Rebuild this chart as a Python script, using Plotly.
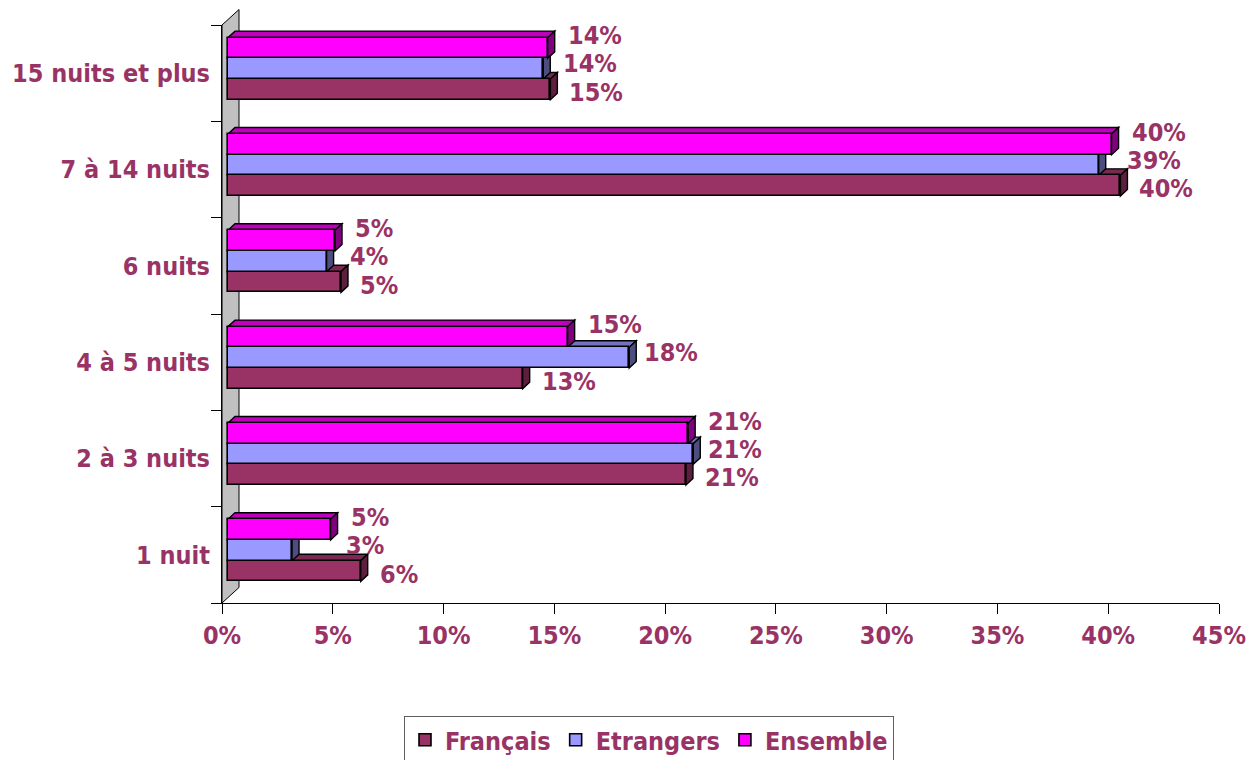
import plotly.graph_objects as go

# Nombre de nuits passées, répartition par clientèle (%)
categories = ["1 nuit", "2 à 3 nuits", "4 à 5 nuits", "6 nuits", "7 à 14 nuits", "15 nuits et plus"]
francais = [5.99, 20.67, 13.30, 5.10, 40.28, 14.55]
etrangers = [2.89, 21.00, 18.11, 4.45, 39.30, 14.23]
ensemble = [4.63, 20.77, 15.33, 4.83, 39.88, 14.43]
x_ticks = [0, 5, 10, 15, 20, 25, 30, 35, 40, 45]
x_tick_labels = [f"{t}%" for t in x_ticks]

TEXT = "#993366"
FONT = "DejaVu Sans Condensed, DejaVu Sans, sans-serif"
FS = 25

# plot geometry (pixels)
ML, MR, MT, MB = 222, 40, 25, 157
W, H = 1259, 760
PW, PH = W - ML - MR, H - MT - MB
XMAX = 45
PX_PER_X = PW / XMAX
PX_PER_CAT = PH / len(categories)

# pseudo-3D depth of the bars and of the wall
BAR_INSET = 6 / PX_PER_X          # bars sit slightly behind the front plane
DX, DY = 7 / PX_PER_X, 6.5 / PX_PER_CAT
BAR_W = 20.7 / PX_PER_CAT
GROUP_SHIFT = 4.5 / PX_PER_CAT

series = [
    ("Français", francais, "#993366", "#5C1F3D", "#7A2952", 17, -3),
    ("Etrangers", etrangers, "#9999FF", "#4D4D80", "#7373BF", 13, 5),
    ("Ensemble", ensemble, "#FF00FF", "#800080", "#BF00BF", 18, 12),
]

fig = go.Figure()
shapes = []

# invisible trace so the visible percentage axis gets drawn
fig.add_trace(go.Scatter(x=[0], y=[categories[0]], xaxis="x", yaxis="y",
                         mode="markers", marker=dict(opacity=0),
                         showlegend=False, hoverinfo="skip"))

# grey back wall behind the bars
wx, wy_top, wy_bot = 17 / PW, 1 + 15.5 / PH, 15.5 / PH
shapes.append(dict(type="path", xref="paper", yref="paper", layer="below",
                   path=f"M 0,0 L 0,1 L {wx},{wy_top} L {wx},{wy_bot} Z",
                   fillcolor="#C0C0C0", line=dict(color="#000000", width=1)))

annotations = []
for k, (name, vals, col, side_col, top_col, xs, ys) in enumerate(series):
    offset = -1.5 * BAR_W + GROUP_SHIFT + k * BAR_W
    fig.add_trace(go.Bar(
        name=name, y=categories, x=vals, orientation="h",
        xaxis="x2", yaxis="y",
        width=BAR_W, offset=offset,
        marker=dict(color=col, line=dict(color="#000000", width=1.6)),
        hoverinfo="x+y",
    ))
    for i, v in enumerate(vals):
        y0 = i + offset
        y1 = y0 + BAR_W
        # top face
        shapes.append(dict(type="path", xref="x2", yref="y", layer="below",
                           path=f"M 0,{y1} L {DX},{y1 + DY} L {v + DX},{y1 + DY} L {v},{y1} Z",
                           fillcolor=top_col, line=dict(color="#000000", width=1.4)))
        # end face
        shapes.append(dict(type="path", xref="x2", yref="y", layer="below",
                           path=f"M {v},{y0} L {v + DX},{y0 + DY} L {v + DX},{y1 + DY} L {v},{y1} Z",
                           fillcolor=side_col, line=dict(color="#000000", width=1.4)))
        # value label, the middle one is kept clear of the bar above
        ref = max(v, ensemble[i]) if name == "Etrangers" else v
        annotations.append(dict(x=ref, y=(y0 + y1) / 2, xref="x2", yref="y",
                                text=f"{v:.0f}%", showarrow=False,
                                xanchor="left", yanchor="middle",
                                xshift=xs, yshift=ys,
                                font=dict(family=FONT, size=FS, color=TEXT, weight="bold")))

fig.update_layout(
    width=W, height=H,
    margin=dict(l=ML, r=MR, t=MT, b=MB, autoexpand=False),
    paper_bgcolor="#FFFFFF", plot_bgcolor="rgba(0,0,0,0)",
    showlegend=True,
    legend=dict(orientation="h", xref="container", yref="container",
                x=404 / W, y=1 - 716 / H,
                xanchor="left", yanchor="top",
                bordercolor="#606060", borderwidth=1, bgcolor="#FFFFFF",
                font=dict(family=FONT, size=FS, color=TEXT, weight="bold"),
                traceorder="normal", itemwidth=30),
    xaxis=dict(range=[0, XMAX], tickvals=x_ticks, ticktext=x_tick_labels,
               showgrid=False, zeroline=False, showline=True,
               linecolor="#000000", linewidth=1,
               ticks="outside", ticklen=10, tickcolor="#000000",
               tickfont=dict(family=FONT, size=FS, color=TEXT, weight="bold"),
               fixedrange=True),
    xaxis2=dict(range=[-BAR_INSET, XMAX - BAR_INSET], overlaying="x",
                visible=False, fixedrange=True),
    yaxis=dict(type="category", categoryarray=categories, categoryorder="array",
               range=[-0.5, len(categories) - 0.5],
               showgrid=False, zeroline=False, showline=True,
               linecolor="#000000", linewidth=1,
               ticks="outside", ticklen=10, tickcolor="#000000", tickson="boundaries",
               ticklabelstandoff=6,
               tickfont=dict(family=FONT, size=FS, color=TEXT, weight="bold"),
               fixedrange=True),
    shapes=shapes,
    annotations=annotations,
    bargap=0,
)

fig.write_html("out.html")
